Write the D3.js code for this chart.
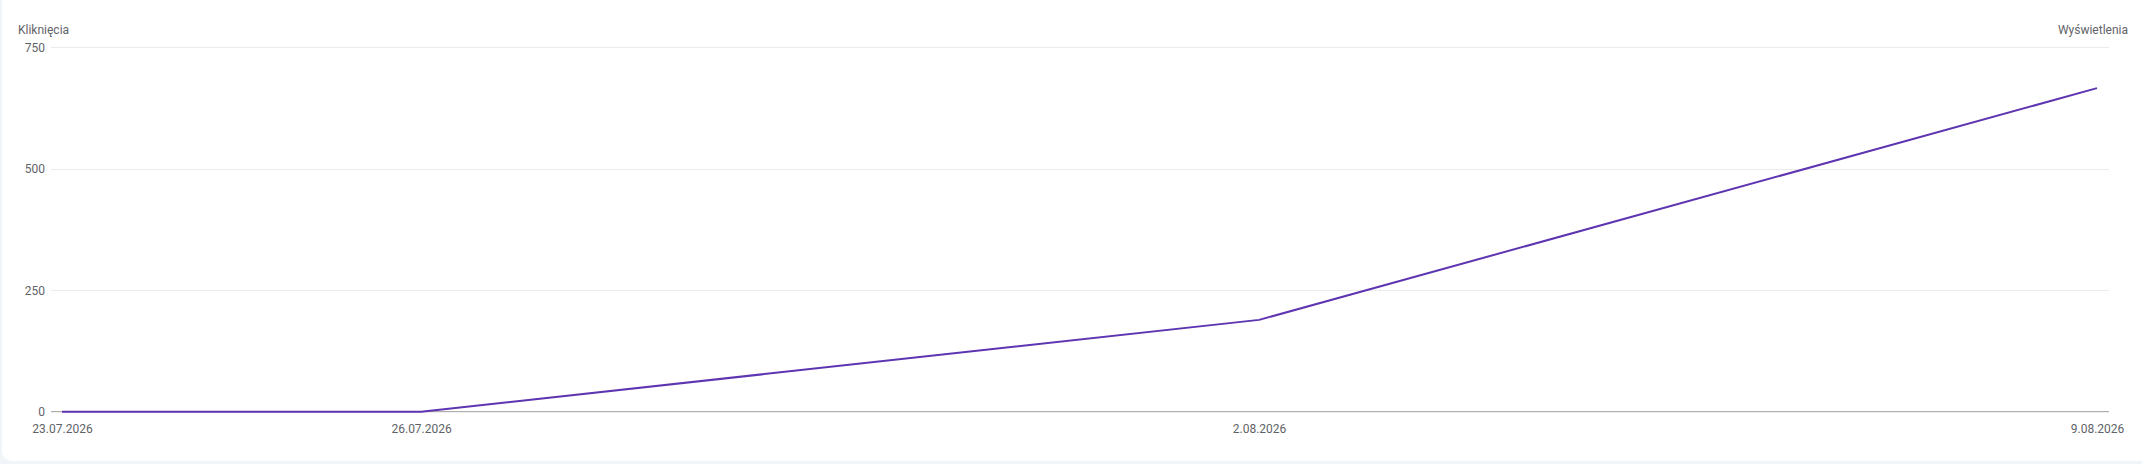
<!DOCTYPE html>
<html>
<head>
<meta charset="utf-8">
<script src="https://cdn.jsdelivr.net/npm/d3@7"></script>
<style>
  html, body { margin: 0; padding: 0; background: #f1f4f8; }
  body { width: 2142px; height: 464px; overflow: hidden; position: relative; }
  #card { position: absolute; left: 2px; top: -12px; width: 2152px; height: 473px; background: #fff; border-radius: 10px; }
  svg { position: absolute; left: 0; top: 0; }
  text { font-family: Roboto, "Noto Sans", sans-serif; font-size: 12px; fill: #5f6368; }
</style>
</head>
<body>
<div id="card"></div>
<svg id="chart" width="2142" height="464"></svg>
<script>
const dates = ["2026-07-23", "2026-07-26", "2026-08-02", "2026-08-09"];
const clicks = [0, 0, 189, 666];
const yTicks = [0, 250, 500, 750];
const xTickDates = ["2026-07-23", "2026-07-26", "2026-08-02", "2026-08-09"];
const leftTitle = "Kliknięcia";
const rightTitle = "Wyświetlenia";

const parse = d3.utcParse("%Y-%m-%d");
const fmt = d3.utcFormat("%-d.%m.%Y");
const data = dates.map((d, i) => ({ date: parse(d), value: clicks[i] }));

const svg = d3.select("#chart");
const gridLeft = 51, gridRight = 2109;
const x = d3.scaleUtc()
  .domain([parse(dates[0]), parse(dates[dates.length - 1])])
  .range([62, 2097]);
const y = d3.scaleLinear().domain([0, 750]).range([411.7, 47.3]);

// gridlines
svg.append("g").selectAll("line")
  .data(yTicks.filter(t => t !== 0))
  .join("line")
  .attr("x1", gridLeft).attr("x2", gridRight)
  .attr("y1", d => Math.round(y(d)) + 0.5).attr("y2", d => Math.round(y(d)) + 0.5)
  .attr("stroke", "#ebebeb").attr("stroke-width", 1);

// y axis labels
const yAxis = d3.axisLeft(y).tickValues(yTicks).tickSize(0).tickPadding(0);
const gy = svg.append("g").attr("transform", `translate(45,0)`).call(yAxis);
gy.select(".domain").remove();
gy.selectAll("text").style("font-size", "12px").attr("fill", "#5f6368").style("font-family", "Roboto, sans-serif");

// line
const line = d3.line().x(d => x(d.date)).y(d => y(d.value));

// x axis baseline
svg.append("line")
  .attr("x1", gridLeft).attr("x2", gridRight)
  .attr("y1", y(0)).attr("y2", y(0))
  .attr("stroke", "#9e9e9e").attr("stroke-width", 1);

svg.append("path")
  .datum(data)
  .attr("d", line)
  .attr("fill", "none")
  .attr("stroke", "#5e35b1")
  .attr("stroke-width", 2)
  .attr("stroke-linejoin", "round");

// x axis labels
const xAxis = d3.axisBottom(x).tickValues(xTickDates.map(parse)).tickFormat(fmt).tickSize(0).tickPadding(0);
const gx = svg.append("g").attr("transform", `translate(0,424)`).call(xAxis);
gx.select(".domain").remove();
gx.selectAll("text").style("font-size", "12px").attr("fill", "#5f6368").style("font-family", "Roboto, sans-serif");

// titles
svg.append("text").attr("x", 18).attr("y", 34).text(leftTitle);
svg.append("text").attr("x", 2128).attr("y", 34).attr("text-anchor", "end").text(rightTitle);
</script>
</body>
</html>
